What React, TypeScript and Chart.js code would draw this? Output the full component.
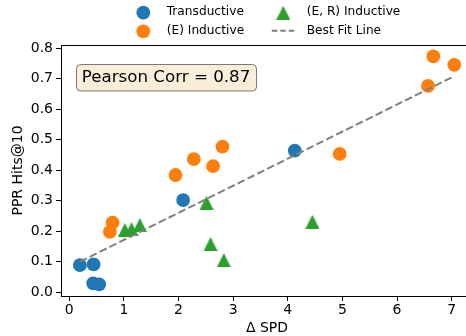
import { useEffect, useRef } from "react";
import { Chart, registerables } from "chart.js";

Chart.register(...registerables);

// ---- data ----
const transductiveX = [0.196, 0.446, 0.439, 0.549, 2.085, 4.128];
const transductiveY = [0.089, 0.091, 0.029, 0.026, 0.302, 0.464];

const eInductiveX = [0.794, 0.744, 1.946, 2.281, 2.633, 2.805, 4.951, 6.566, 6.664, 7.048];
const eInductiveY = [0.228, 0.198, 0.384, 0.436, 0.413, 0.477, 0.453, 0.676, 0.773, 0.745];

const erInductiveX = [1.018, 1.141, 1.293, 2.513, 2.586, 2.829, 4.451];
const erInductiveY = [0.204, 0.207, 0.22, 0.293, 0.158, 0.105, 0.231];

const fitX = [0.196, 7.048];
const fitY = [0.1, 0.708];

const seriesLabels = ["Transductive", "(E) Inductive", "(E, R) Inductive", "Best Fit Line"];
const xTicks = [0, 1, 2, 3, 4, 5, 6, 7];
const yTicks = [0, 0.1, 0.2, 0.3, 0.4, 0.5, 0.6, 0.7, 0.8];
const xLimits = [-0.15, 7.39];
const yLimits = [-0.0124, 0.81];
const xTitle = "Δ SPD";
const yTitle = "PPR Hits@10";
const pearsonText = "Pearson Corr = 0.87";

const BLUE = "#1f77b4";
const ORANGE = "#ff7f0e";
const GREEN = "#2ca02c";
const FONT = "DejaVu Sans";

const toPoints = (xs: number[], ys: number[]) => xs.map((x, i) => ({ x, y: ys[i] }));

function makeTriangle(size: number, color: string) {
  const c = document.createElement("canvas");
  c.width = size;
  c.height = size;
  const g = c.getContext("2d")!;
  g.fillStyle = color;
  g.beginPath();
  g.moveTo(size / 2, 0);
  g.lineTo(size, size);
  g.lineTo(0, size);
  g.closePath();
  g.fill();
  return c;
}

export default function App() {
  const ref = useRef<HTMLCanvasElement>(null);

  useEffect(() => {
    const canvas = ref.current!;
    const triangle = makeTriangle(14, GREEN);

    const framePlugin = {
      id: "frame",
      afterDraw(chart: any) {
        const { ctx, chartArea } = chart;
        ctx.save();
        ctx.strokeStyle = "#000";
        ctx.lineWidth = 1;
        ctx.beginPath();
        ctx.moveTo(chartArea.left, Math.round(chartArea.top) + 0.5);
        ctx.lineTo(chartArea.right, Math.round(chartArea.top) + 0.5);
        ctx.moveTo(Math.round(chartArea.right) + 0.5, chartArea.top);
        ctx.lineTo(Math.round(chartArea.right) + 0.5, chartArea.bottom);
        ctx.stroke();
        ctx.restore();
      },
    };

    const legendPlugin = {
      id: "customLegend",
      afterDraw(chart: any) {
        const { ctx } = chart;
        const colX = [143.3, 283.3];
        const rowY = [12.7, 31.3];
        const textOffset = 23.4;
        // column-major order like matplotlib ncol=2
        const order = [0, 1, 2, 3];
        ctx.save();
        ctx.font = `12.2px "${FONT}"`;
        ctx.textBaseline = "middle";
        ctx.textAlign = "left";
        order.forEach((di, k) => {
          const cx = colX[Math.floor(k / 2)];
          const cy = rowY[k % 2];
          const ds = chart.data.datasets[di];
          if (di === 3) {
            ctx.strokeStyle = ds.borderColor;
            ctx.lineWidth = ds.borderWidth;
            ctx.setLineDash([5.5, 3]);
            ctx.beginPath();
            ctx.moveTo(cx - 11.5, cy - 0.5);
            ctx.lineTo(cx + 11.5, cy - 0.5);
            ctx.stroke();
            ctx.setLineDash([]);
          } else if (di === 2) {
            ctx.drawImage(triangle, cx - 7, cy - 7);
          } else {
            ctx.fillStyle = ds.backgroundColor;
            ctx.beginPath();
            ctx.arc(cx, cy, ds.pointRadius, 0, Math.PI * 2);
            ctx.fill();
          }
          ctx.fillStyle = "#000";
          ctx.fillText(ds.label, cx + textOffset, cy - 0.6);
        });
        ctx.restore();
      },
    };

    const annotationPlugin = {
      id: "pearson",
      afterDraw(chart: any) {
        const { ctx } = chart;
        ctx.save();
        const x = 76.5, y = 64.5, w = 180, h = 26.5, r = 4;
        ctx.beginPath();
        ctx.roundRect(x, y, w, h, r);
        ctx.fillStyle = "#faeed9";
        ctx.fill();
        ctx.strokeStyle = "rgba(0,0,0,0.5)";
        ctx.lineWidth = 1;
        ctx.stroke();
        ctx.fillStyle = "#000";
        ctx.font = `16.7px "${FONT}"`;
        ctx.textBaseline = "middle";
        ctx.textAlign = "left";
        ctx.fillText(pearsonText, 81.7, 78);
        ctx.restore();
      },
    };

    const chart = new Chart(canvas, {
      type: "scatter",
      data: {
        datasets: [
          {
            label: seriesLabels[0],
            data: toPoints(transductiveX, transductiveY),
            backgroundColor: BLUE,
            borderWidth: 0,
            pointRadius: 6.9,
            order: 4,
          },
          {
            label: seriesLabels[1],
            data: toPoints(eInductiveX, eInductiveY),
            backgroundColor: ORANGE,
            borderWidth: 0,
            pointRadius: 6.9,
            order: 3,
          },
          {
            label: seriesLabels[2],
            data: toPoints(erInductiveX, erInductiveY),
            backgroundColor: GREEN,
            borderWidth: 0,
            pointStyle: triangle as any,
            pointRadius: 7,
            order: 2,
          },
          {
            type: "line",
            label: seriesLabels[3],
            data: toPoints(fitX, fitY),
            borderColor: "#808080",
            borderWidth: 2,
            borderDash: [7.7, 3.3],
            pointRadius: 0,
            fill: false,
            order: 1,
          } as any,
        ],
      },
      options: {
        responsive: false,
        animation: false,
        events: [],
        layout: { padding: { top: 45, right: 7, left: 0, bottom: 0 } },
        plugins: {
          legend: { display: false },
          tooltip: { enabled: false },
        },
        scales: {
          x: {
            type: "linear",
            position: "bottom",
            min: xLimits[0],
            max: xLimits[1],
            afterBuildTicks: (s: any) => {
              s.ticks = xTicks.map((v) => ({ value: v }));
            },
            afterFit: (s: any) => {
              s.height = 40;
            },
            grid: { drawOnChartArea: false, drawTicks: true, tickLength: 5, color: "#000", lineWidth: 1 },
            border: { display: true, color: "#000", width: 1 },
            ticks: {
              color: "#000",
              font: { family: FONT, size: 14 },
              padding: 1,
              maxRotation: 0,
              autoSkip: false,
              callback: (v: any) => String(v),
            },
            title: {
              display: true,
              text: xTitle,
              color: "#000",
              font: { family: FONT, size: 14, lineHeight: 1.05 },
              padding: { top: 0, bottom: 0 },
            },
          },
          y: {
            type: "linear",
            min: yLimits[0],
            max: yLimits[1],
            afterBuildTicks: (s: any) => {
              s.ticks = yTicks.map((v) => ({ value: v }));
            },
            afterFit: (s: any) => {
              s.width = 61;
            },
            grid: { drawOnChartArea: false, drawTicks: true, tickLength: 5, color: "#000", lineWidth: 1 },
            border: { display: true, color: "#000", width: 1 },
            ticks: {
              color: "#000",
              font: { family: FONT, size: 14 },
              padding: 3,
              autoSkip: false,
              callback: (v: any) => Number(v).toFixed(1),
            },
            title: {
              display: true,
              text: yTitle,
              color: "#000",
              font: { family: FONT, size: 14 },
              padding: { top: 9.5, bottom: 0 },
            },
          },
        },
      },
      plugins: [framePlugin, legendPlugin, annotationPlugin],
    });

    return () => chart.destroy();
  }, []);

  return (
    <div
      style={{
        position: "fixed",
        left: 0,
        top: 0,
        width: 466,
        height: 336,
        overflow: "hidden",
        background: "#fff",
      }}
    >
      <canvas ref={ref} width={480} height={336} style={{ width: 480, height: 336, display: "block" }} />
    </div>
  );
}
